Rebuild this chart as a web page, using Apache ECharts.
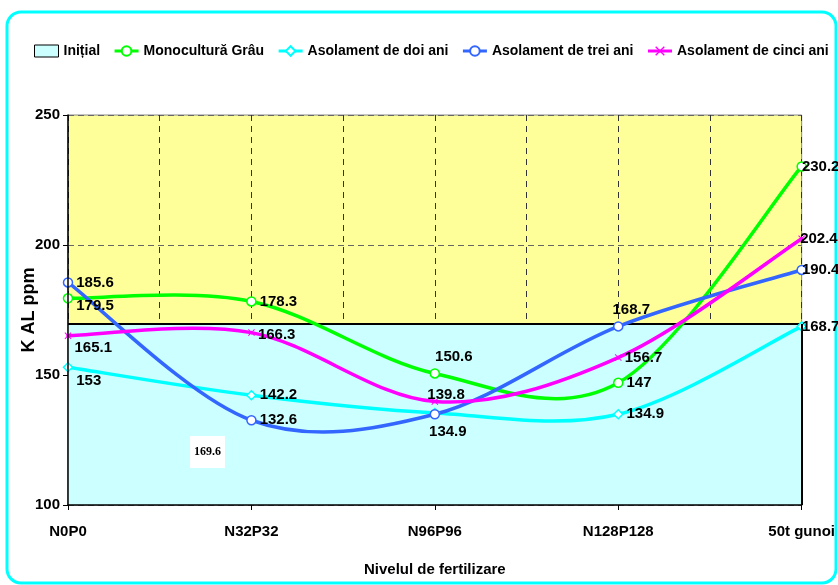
<!DOCTYPE html>
<html>
<head>
<meta charset="utf-8">
<script src="https://cdn.jsdelivr.net/npm/echarts@6.0.0/dist/echarts.min.js"></script>
<style>
  html, body { margin: 0; padding: 0; background: #fff; }
  #chart { width: 838px; height: 585px; }
</style>
</head>
<body>
<div id="chart"></div>
<script>
// ===== data =====
const categories = ['N0P0', 'N32P32', 'N96P96', 'N128P128', '50t gunoi'];
const initial = [169.6, 169.6, 169.6, 169.6, 169.6];
const monoGrau = [179.5, 178.3, 150.6, 147, 230.2];
const doiAni = [153, 142.2, 135.4, 134.9, 168.7];
const treiAni = [185.6, 132.6, 134.9, 168.7, 190.4];
const cinciAni = [165.1, 166.3, 139.8, 156.7, 202.4];
const yTicks = [100, 150, 200, 250];

// label nudges (px) per point, null = no label
const offMono = [[0, 8], [0, 0], [-8, -17], [0, 0], [-8, 0]];
const offDoi = [[0, 14], [0, 0], null, [0, 0], [-8, 0]];
const offTrei = [[0, 0], [0, 0], [-14, 18], [-14, -17], [-8, 0]];
const offCinci = [[0, 12], [0, 2], [-14, -7], [0, 0], [-8, 0]];

const FONT = '"Liberation Sans", Arial, sans-serif';
const crossPath = 'path://M0,1L1,0L5,4L9,0L10,1L6,5L10,9L9,10L5,6L1,10L0,9L4,5Z';

function withLabels(values, offsets) {
  return values.map((v, i) => {
    const off = offsets[i];
    if (!off) return { value: v, label: { show: false } };
    return { value: v, label: { offset: off } };
  });
}

// markers + labels (the curve itself is drawn by curveSeries)
function pointSeries(name, values, offsets, color, symbol, filled) {
  return {
    name: name,
    type: 'line',
    xAxisIndex: 0,
    yAxisIndex: 0,
    data: withLabels(values, offsets),
    symbol: symbol,
    symbolSize: symbol === crossPath ? 7 : 9,
    lineStyle: { color: color, width: 3, opacity: 0 },
    itemStyle: filled
      ? { color: color }
      : { color: '#ffffff', borderColor: color, borderWidth: 1.5 },
    label: {
      show: true,
      position: 'right',
      distance: 3,
      color: '#000',
      fontFamily: FONT,
      fontWeight: 'bold',
      fontSize: 15
    },
    z: 4
  };
}

// Excel-style smoothed curve through the points, positioned with api.coord
function curveSeries(values, color) {
  return {
    type: 'custom',
    name: '_curve',
    xAxisIndex: 0,
    yAxisIndex: 0,
    silent: true,
    z: 3,
    data: values.map((v, i) => [i, v]),
    renderItem: function (params, api) {
      if (params.dataIndex !== 0) return null;
      const pts = values.map((v, i) => api.coord([i, v]));
      const kids = [];
      for (let i = 0; i < pts.length - 1; i++) {
        const p0 = pts[i - 1] || pts[i];
        const p1 = pts[i];
        const p2 = pts[i + 1];
        const p3 = pts[i + 2] || pts[i + 1];
        kids.push({
          type: 'bezierCurve',
          shape: {
            x1: p1[0], y1: p1[1], x2: p2[0], y2: p2[1],
            cpx1: p1[0] + (p2[0] - p0[0]) / 6,
            cpy1: p1[1] + (p2[1] - p0[1]) / 6,
            cpx2: p2[0] - (p3[0] - p1[0]) / 6,
            cpy2: p2[1] - (p3[1] - p1[1]) / 6
          },
          style: { stroke: color, lineWidth: 3.5, fill: null, lineCap: 'round' }
        });
      }
      return { type: 'group', children: kids };
    }
  };
}

const chart = echarts.init(document.getElementById('chart'));

chart.setOption({
  animation: false,
  backgroundColor: '#ffffff',
  textStyle: { fontFamily: FONT },
  legend: {
    left: 32,
    top: 42,
    width: 804,
    padding: 2,
    itemGap: 13,
    itemWidth: 24,
    itemHeight: 12,
    textStyle: { color: '#000', fontWeight: 'bold', fontSize: 14, fontFamily: FONT },
    data: [
      { name: 'Inițial', icon: 'rect', itemStyle: { color: '#CCFFFF', borderColor: '#000', borderWidth: 1 } },
      { name: 'Monocultură Grâu', lineStyle: { color: '#00FF00', width: 3, opacity: 1 } },
      { name: 'Asolament de doi ani', lineStyle: { color: '#00FFFF', width: 3, opacity: 1 } },
      { name: 'Asolament de trei ani', lineStyle: { color: '#3366FF', width: 3, opacity: 1 } },
      { name: 'Asolament de cinci ani', lineStyle: { color: '#FF00FF', width: 3, opacity: 1 } }
    ]
  },
  grid: {
    left: 68,
    right: 33,
    top: 115,
    bottom: 80,
    show: true,
    backgroundColor: '#FFFF99',
    borderColor: '#888',
    borderWidth: 1
  },
  xAxis: [
    {
      type: 'category',
      data: categories,
      boundaryGap: false,
      name: 'Nivelul de fertilizare',
      nameLocation: 'middle',
      nameGap: 57,
      nameTextStyle: { color: '#000', fontWeight: 'bold', fontSize: 15, fontFamily: FONT },
      axisLine: { lineStyle: { color: '#000', width: 1.5 } },
      axisTick: { show: true, length: 5, lineStyle: { color: '#000' } },
      axisLabel: { color: '#000', fontWeight: 'bold', fontSize: 15, margin: 19, fontFamily: FONT },
      splitLine: { show: false },
      z: 5
    },
    {
      // helper axis only for the dashed vertical grid (categories + midpoints)
      type: 'value',
      min: 0,
      max: 4,
      interval: 0.5,
      position: 'bottom',
      axisLine: { show: false },
      axisTick: { show: false },
      axisLabel: { show: false },
      splitLine: { show: true, lineStyle: { color: '#333', type: [6, 5], width: 1 } }
    }
  ],
  yAxis: [
    {
      type: 'value',
      min: yTicks[0],
      max: yTicks[yTicks.length - 1],
      interval: 50,
      name: 'K AL ppm',
      nameLocation: 'middle',
      nameGap: 30,
      nameMoveOverlap: false,
      nameTextStyle: { color: '#000', fontWeight: 'bold', fontSize: 18, fontFamily: FONT },
      axisLine: { show: true, lineStyle: { color: '#000', width: 1.5 } },
      axisTick: { show: true, length: 5, lineStyle: { color: '#000' } },
      axisLabel: { color: '#000', fontWeight: 'bold', fontSize: 15, margin: 8, fontFamily: FONT },
      splitLine: { show: false },
      z: 5
    },
    {
      // helper axis for the dashed horizontal grid, drawn under the series
      type: 'value',
      min: yTicks[0],
      max: yTicks[yTicks.length - 1],
      interval: 50,
      axisLine: { show: false },
      axisTick: { show: false },
      axisLabel: { show: false },
      splitLine: { show: true, lineStyle: { color: '#666', type: [6, 4], width: 1 } }
    }
  ],
  graphic: [
    {
      type: 'rect',
      shape: { x: 7, y: 12, width: 829, height: 571, r: 14 },
      style: { fill: null, stroke: '#00FFFF', lineWidth: 3 },
      silent: true
    },
    {
      type: 'text',
      left: 190,
      top: 436,
      z: 10,
      style: {
        text: '169.6',
        font: 'bold 12px "Liberation Serif", "DejaVu Serif", serif',
        fill: '#000',
        backgroundColor: '#ffffff',
        padding: [10, 4, 10, 4]
      }
    }
  ],
  series: [
    {
      name: 'Inițial',
      type: 'line',
      xAxisIndex: 0,
      yAxisIndex: 0,
      data: initial,
      symbol: 'none',
      lineStyle: { color: '#000', width: 2 },
      itemStyle: { color: '#CCFFFF', borderColor: '#000' },
      areaStyle: { color: '#CCFFFF', opacity: 1 },
      markLine: {
        silent: true,
        symbol: 'none',
        label: { show: false },
        lineStyle: { color: '#000', width: 2, type: 'solid' },
        data: [[{ coord: [categories[4], yTicks[0]] }, { coord: [categories[4], initial[4]] }]]
      },
      z: 2
    },
    pointSeries('Monocultură Grâu', monoGrau, offMono, '#00FF00', 'circle', false),
    pointSeries('Asolament de doi ani', doiAni, offDoi, '#00FFFF', 'diamond', false),
    pointSeries('Asolament de trei ani', treiAni, offTrei, '#3366FF', 'circle', false),
    pointSeries('Asolament de cinci ani', cinciAni, offCinci, '#FF00FF', crossPath, true),
    curveSeries(monoGrau, '#00FF00'),
    curveSeries(doiAni, '#00FFFF'),
    curveSeries(treiAni, '#3366FF'),
    curveSeries(cinciAni, '#FF00FF')
  ]
});
</script>
</body>
</html>
